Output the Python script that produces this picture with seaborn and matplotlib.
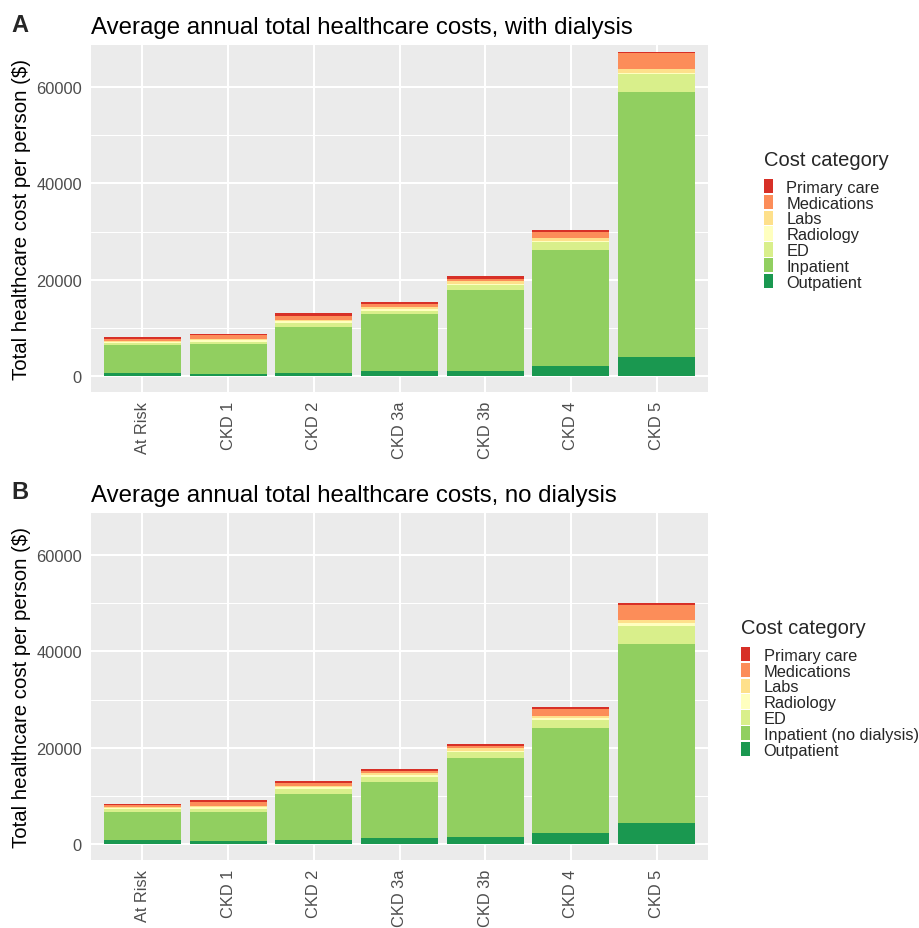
import matplotlib
matplotlib.use("Agg")
import matplotlib.pyplot as plt
import seaborn as sns
import pandas as pd

stages = ["At Risk", "CKD 1", "CKD 2", "CKD 3a", "CKD 3b", "CKD 4", "CKD 5"]
categories_a = ["Primary care", "Medications", "Labs", "Radiology", "ED", "Inpatient", "Outpatient"]
categories_b = ["Primary care", "Medications", "Labs", "Radiology", "ED", "Inpatient (no dialysis)", "Outpatient"]
colors = ["#d73027", "#fc8d59", "#fee08b", "#ffffbf", "#d9ef8b", "#91cf60", "#1a9850"]

# Panel A: with dialysis
primary_a = [280, 280, 480, 414, 480, 480, 345]
medications_a = [410, 830, 830, 620, 550, 1240, 3170]
labs_a = [200, 280, 345, 345, 480, 480, 830]
radiology_a = [200, 340, 345, 480, 345, 345, 275]
ed_a = [550, 480, 830, 690, 1035, 1720, 3655]
inpatient_a = [5720, 6140, 9520, 11790, 16760, 23930, 55120]
outpatient_a = [690, 480, 690, 1035, 1035, 2140, 3930]

# Panel B: no dialysis
primary_b = [275, 480, 414, 345, 414, 414, 414]
medications_b = [275, 760, 480, 414, 480, 1380, 3240]
labs_b = [200, 275, 345, 414, 480, 480, 550]
radiology_b = [275, 345, 345, 345, 345, 345, 690]
ed_b = [550, 550, 1100, 1035, 1240, 1725, 3590]
inpatient_b = [5930, 6210, 9520, 11790, 16415, 21790, 37310]
outpatient_b = [830, 550, 830, 1170, 1380, 2210, 4280]

title_a = "Average annual total healthcare costs, with dialysis"
title_b = "Average annual total healthcare costs, no dialysis"
ylabel = "Total healthcare cost per person ($)"
yticks = [0, 20000, 40000, 60000]
yminor = [10000, 30000, 50000]


def long_df(cats, series):
    rows = []
    for cat, vals in zip(cats, series):
        for st, v in zip(stages, vals):
            rows.append({"stage": st, "category": cat, "cost": v})
    df = pd.DataFrame(rows)
    df["stage"] = pd.Categorical(df["stage"], categories=stages, ordered=True)
    return df


df_a = long_df(categories_a, [primary_a, medications_a, labs_a, radiology_a, ed_a, inpatient_a, outpatient_a])
df_b = long_df(categories_b, [primary_b, medications_b, labs_b, radiology_b, ed_b, inpatient_b, outpatient_b])

sns.set_theme(style="darkgrid")
plt.rcParams["font.family"] = ["Liberation Sans", "DejaVu Sans"]

fig = plt.figure(figsize=(9.19, 9.29), dpi=100)
fig.patch.set_facecolor("white")

W, H = 919, 929


def px_axes(left, top, right, bottom):
    return fig.add_axes([left / W, 1 - bottom / H, (right - left) / W, (bottom - top) / H])


panels = [
    (df_a, categories_a, title_a, "A", 46, 393, (757 / W, 1 - 221 / H)),
    (df_b, categories_b, title_b, "B", 514, 861, (734 / W, 1 - 689 / H)),
]

for df, cats, title, letter, top, bottom, legpos in panels:
    ax = px_axes(91, top, 708, bottom)
    sns.histplot(data=df, x="stage", hue="category", weights="cost",
                 multiple="stack", discrete=True, shrink=0.9,
                 hue_order=cats, palette=colors, alpha=1, linewidth=0,
                 ax=ax)
    ax.set_facecolor("#ebebeb")
    ax.set_xlim(-0.6, 6.6)
    ax.set_ylim(-3300, 68700)
    ax.set_yticks(yticks)
    ax.set_yticklabels([str(v) for v in yticks])
    ax.set_yticks(yminor, minor=True)
    ax.grid(which="major", color="white", linewidth=1.5)
    ax.grid(which="minor", color="white", linewidth=0.75)
    ax.set_axisbelow(True)
    ax.set_xticks(range(len(stages)))
    ax.set_xticklabels(stages, rotation=90)
    ax.tick_params(axis="both", which="major", length=4.5, width=1.1, color="#333333",
                   labelcolor="#4d4d4d", labelsize=11.8, pad=2)
    ax.tick_params(which="minor", length=0)
    for s in ax.spines.values():
        s.set_visible(False)
    ax.set_xlabel("")
    ax.set_ylabel(ylabel, fontsize=14.7, color="black", labelpad=4)
    ax.set_title(title, loc="left", fontsize=17.3, color="black", pad=8.5)
    fig.text(11 / W, 1 - (top - 21) / H, letter, fontsize=17, fontweight="bold",
             va="center", ha="left")
    sns.move_legend(ax, "center left", bbox_to_anchor=legpos, bbox_transform=fig.transFigure,
                    frameon=False, title="Cost category", title_fontsize=14.5, fontsize=11.8,
                    handlelength=0.6, handleheight=0.97, labelspacing=0.0, handletextpad=0.8,
                    alignment="left", borderaxespad=0)
    leg = ax.get_legend()
    leg._legend_box.sep = 7

fig.savefig("out.png", dpi=100)
